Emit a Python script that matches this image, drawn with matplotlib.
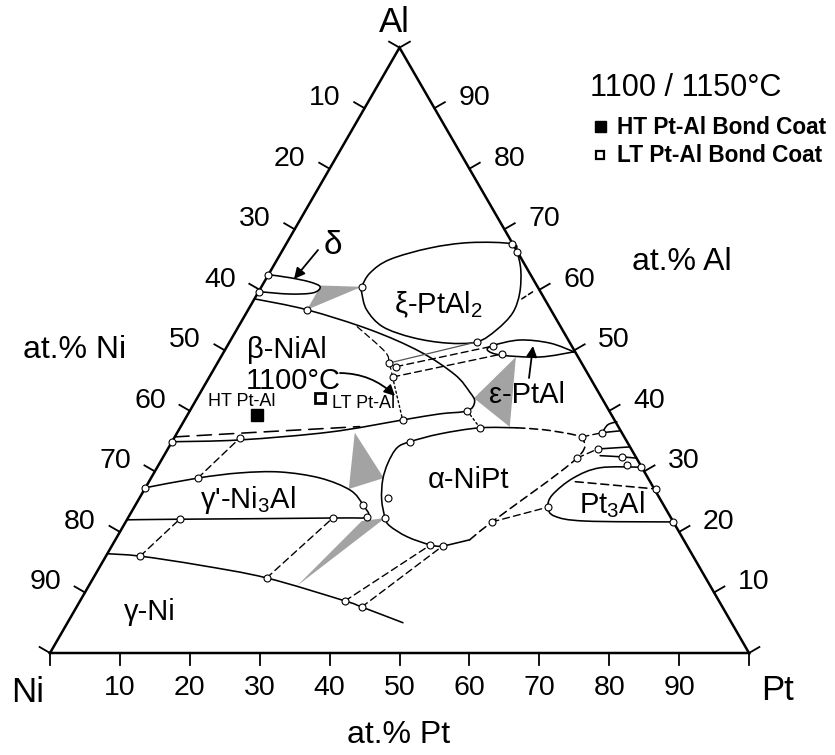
import numpy as np
import matplotlib
matplotlib.use("Agg")
import matplotlib.pyplot as plt
from matplotlib.path import Path
from matplotlib.patches import PathPatch, Polygon

plt.rcParams["font.family"] = ["Liberation Sans", "DejaVu Sans"]
plt.rcParams["mathtext.fontset"] = "custom"
plt.rcParams["mathtext.rm"] = "Liberation Sans"
plt.rcParams["mathtext.it"] = "Liberation Sans:italic"
plt.rcParams["mathtext.bf"] = "Liberation Sans:bold"

# ---------------------------------------------------------------------------
# Ni-Al-Pt isothermal section, compositions as (at.% Pt, at.% Al); Ni = balance
# ---------------------------------------------------------------------------
tick_values = [10, 20, 30, 40, 50, 60, 70, 80, 90]

delta_boundary = [(0, 62.5), (3.3, 62.0), (6.5, 61.3), (8.4, 60.5), (7.9, 59.5),
                  (4.6, 59.3), (0, 59.7)]
beta_boundary = [(0, 58.5), (8.4, 56.7), (19.1, 53.4), (28.0, 49.8), (34.9, 46.0),
                 (38.5, 43.1), (40.0, 41.5), (39.7, 40.0), (36.0, 39.5), (31.2, 38.5),
                 (21.8, 36.5), (9.6, 35.2), (0, 34.9)]
beta_1150_low = [(0, 35.7), (10.4, 36.4), (25.6, 37.4)]
beta_1150_high = [(17.0, 53.9), (23.0, 49.8), (24.6, 47.9), (26.2, 45.6)]
xi_boundary = [(14.35, 60.5), (14.4, 62.8), (16.1, 65.0), (20.9, 66.9), (26.2, 67.8),
               (32.3, 67.6), (33.65, 66.3), (35.7, 63.3), (37.45, 59.5), (38.1, 56.2),
               (37.2, 53.4), (35.4, 51.4), (31.2, 51.2), (25.85, 52.1), (20.65, 53.9),
               (16.95, 56.7), (14.85, 59.5)]
xi_1150 = [(38.25, 58.5), (39.25, 59.7)]
eps_boundary = [(50.1, 49.75), (45.9, 51.2), (41.35, 51.7), (38.0, 50.8), (37.6, 50.0),
                (40.0, 49.2), (45.65, 48.9), (50.1, 49.75)]
gp_boundary = [(0, 27.3), (6.7, 28.9), (12.3, 29.75), (18.0, 29.9), (24.2, 28.9),
               (29.5, 26.9), (32.5, 24.5), (34.1, 22.5), (29.3, 22.3), (7.5, 22.1),
               (0, 22.0)]
gamma_boundary = [(0, 16.4), (4.9, 16.0), (14.2, 14.5), (24.8, 12.4), (37.9, 8.6),
                  (40.8, 7.6), (48.0, 5.0)]
alpha_boundary = [(50.7, 18.7), (47.35, 17.7), (45.5, 17.85), (41.5, 19.2), (38.1, 21.0),
                  (36.8, 22.3), (34.8, 25.3), (33.3, 28.6), (32.65, 31.4), (32.7, 33.9),
                  (34.05, 34.9), (37.7, 36.2), (42.9, 37.2), (48.2, 37.2)]
alpha_1150_top = [(48.2, 37.2), (52.05, 36.9), (56.3, 36.2), (58.25, 35.7)]
alpha_1150_side = [(50.7, 18.7), (52.4, 21.65), (59.3, 32.2), (58.25, 35.7)]
pt3al_boundary = [(69.2, 30.7), (63.4, 30.6), (60.4, 28.9), (58.8, 26.1), (59.2, 24.1),
                  (60.9, 22.6), (65.6, 21.8), (78.3, 21.65)]
pt3al_1150 = [(61.0, 28.3), (73.1, 27.1)]
edge_arc = [(60.8, 36.4), (60.95, 37.7), (62.0, 38.2)]
edge_line_a = [(60.8, 36.4), (63.2, 36.7)]
edge_line_b = [(61.5, 33.7), (66.0, 34.05)]
edge_line_c = [(62.4, 32.6), (65.6, 32.4), (67.7, 32.2)]

# tie lines: (solid-thin, dashed, dotted)
tie_solid = [[(24.55, 47.9), (35.4, 51.4)]]
tie_dashed = [[(25.85, 47.3), (38.0, 50.7)], [(26.25, 45.6), (40.0, 49.4)],
              [(4.9, 16.0), (7.5, 22.1)], [(24.8, 12.4), (29.3, 22.3)],
              [(6.7, 28.9), (9.4, 35.5)], [(37.9, 8.6), (45.5, 17.85)],
              [(40.8, 7.6), (47.35, 17.7)], [(52.4, 21.65), (59.2, 24.1)],
              [(58.25, 35.7), (60.8, 36.4)], [(59.3, 32.2), (61.5, 33.7)]]
tie_dotted = [[(26.2, 45.6), (31.2, 38.5)], [(39.7, 40.0), (42.9, 37.2)]]

# three-phase tie triangles
tie_triangles = [
    [(8.4, 60.7), (14.35, 60.5), (8.4, 56.7)],      # delta + beta + xi
    [(39.6, 42.1), (42.2, 48.9), (47.1, 37.35)],    # beta + eps + alpha
    [(25.4, 36.4), (33.3, 28.9), (29.2, 27.1)],     # beta + gamma' + alpha
    [(36.8, 22.3), (33.7, 21.8), (29.8, 11.1)],     # gamma' + alpha + gamma
]

# measured phase compositions (open circles)
measured_pts = [(0, 62.5), (0, 59.7), (8.4, 56.7), (14.35, 60.5), (32.3, 67.6),
                (33.65, 66.3), (35.4, 51.4), (38.0, 50.7), (40.0, 49.4), (24.55, 47.9),
                (25.85, 47.3), (26.25, 45.6), (39.7, 40.0), (31.2, 38.5), (42.9, 37.2),
                (34.05, 34.9), (0, 34.9), (9.4, 35.5), (0, 27.3), (6.7, 28.9),
                (7.5, 22.1), (29.3, 22.3), (32.5, 24.5), (34.1, 22.5), (36.8, 22.3),
                (35.55, 25.6), (4.9, 16.0), (24.8, 12.4), (37.9, 8.6), (40.8, 7.6),
                (45.5, 17.85), (47.35, 17.7), (52.4, 21.65), (59.2, 24.1), (59.3, 32.2),
                (58.25, 35.7), (60.8, 36.4), (61.5, 33.7), (65.6, 32.4), (67.0, 31.1),
                (69.2, 30.7), (73.1, 27.1), (78.3, 21.65)]

# bond coat compositions
ht_coat = (10.0, 39.3)
lt_coat = (17.6, 42.1)

# ---------------------------------------------------------------------------
W, H = 835, 755
X0, Y0, SIDE = 50, 653, 699          # Ni corner and side length in pixels
S3 = np.sqrt(3) / 2
LW = 1.15


def tern(pts):
    a = np.asarray(pts, float)
    pt, al = a[:, 0] / 100.0, a[:, 1] / 100.0
    return pt + al / 2, al * S3


def smooth_path(pts, closed=False):
    x, y = tern(pts)
    P = np.column_stack([x, y])
    if closed:
        P = np.vstack([P, P[:1]])
    n = len(P)
    verts, codes = [P[0]], [Path.MOVETO]
    for i in range(n - 1):
        if i > 0:
            p0 = P[i - 1]
        else:
            p0 = P[-2] if closed else P[0]
        p1, p2 = P[i], P[i + 1]
        if i + 2 < n:
            p3 = P[i + 2]
        else:
            p3 = P[1] if closed else P[i + 1]
        verts += [p1 + (p2 - p0) / 6, p2 - (p3 - p1) / 6, p2]
        codes += [Path.CURVE4] * 3
    return Path(verts, codes)


def curve(ax, pts, closed=False, ls="-", lw=LW, color="k", z=3):
    ax.add_patch(PathPatch(smooth_path(pts, closed), fill=False, ec=color, lw=lw,
                           ls=ls, zorder=z, capstyle="round", joinstyle="round"))


def fxy(px, py):
    return px / W, 1 - py / H


fig = plt.figure(figsize=(W / 100, H / 100), dpi=100)
ax = fig.add_axes([0, 0, 1, 1])
ax.set_xlim(-X0 / SIDE, (W - X0) / SIDE)
ax.set_ylim(-(H - Y0) / SIDE, Y0 / SIDE)
ax.axis("off")

# triangle frame
ax.plot([0, 1, 0.5, 0], [0, 0, S3, 0], color="k", lw=1.8, zorder=4,
        solid_joinstyle="miter")

# ticks on the three sides
tl = 12 / SIDE
for v in [0] + tick_values + [100]:
    f = v / 100
    # bottom: at.% Pt
    ax.plot([f, f], [0, -tl], color="k", lw=1.3)
    # left: at.% Ni (point on Ni-Al edge)
    lx, ly = 0.5 * (1 - f), S3 * (1 - f)
    ax.plot([lx, lx - tl * S3], [ly, ly + tl * 0.5], color="k", lw=1.3)
    # right: at.% Al (point on Pt-Al edge)
    rx, ry = 1 - 0.5 * f, S3 * f
    ax.plot([rx, rx + tl * S3], [ry, ry + tl * 0.5], color="k", lw=1.3)

TICK_FS = 20.5
for v in tick_values:
    f = v / 100
    ax.annotate(str(v), (f, 0), xytext=(0, -35), textcoords="offset pixels",
                ha="center", va="center", fontsize=TICK_FS)
    ax.annotate(str(v), (0.5 * (1 - f), S3 * (1 - f)), xytext=(-24, 10),
                textcoords="offset pixels", ha="right", va="center", fontsize=TICK_FS)
    ax.annotate(str(v), (1 - 0.5 * f, S3 * f), xytext=(24, 10),
                textcoords="offset pixels", ha="left", va="center", fontsize=TICK_FS)

# tie triangles
for tri in tie_triangles:
    x, y = tern(tri)
    ax.add_patch(Polygon(np.column_stack([x, y]), closed=True, fc="#a3a3a3",
                         ec="none", zorder=1))

# phase boundaries at 1100 C
curve(ax, delta_boundary)
curve(ax, beta_boundary)
curve(ax, xi_boundary, closed=True)
curve(ax, eps_boundary)
curve(ax, gp_boundary)
curve(ax, gamma_boundary)
curve(ax, alpha_boundary)
curve(ax, pt3al_boundary)
curve(ax, edge_arc)
curve(ax, edge_line_a)
curve(ax, edge_line_b)
curve(ax, edge_line_c)

# boundaries at 1150 C
dash = (0, (5, 3))
curve(ax, beta_1150_low, ls=(0, (9, 5)))
curve(ax, beta_1150_high, ls=dash, lw=0.9)
curve(ax, xi_1150, ls=(0, (3, 2)))
curve(ax, alpha_1150_top, ls=dash)
curve(ax, alpha_1150_side, ls=dash)
curve(ax, pt3al_1150, ls=dash)

for seg in tie_solid:
    curve(ax, seg, lw=0.9, color="#555555")
for seg in tie_dashed:
    curve(ax, seg, ls=dash, lw=1.0)
for seg in tie_dotted:
    curve(ax, seg, ls=(0, (1.5, 2)), lw=1.0)

mx, my = tern(measured_pts)
ax.plot(mx, my, "o", ms=5, mfc="white", mec="k", mew=0.8, zorder=6)

hx, hy = tern([ht_coat])
ax.plot(hx, hy, "s", ms=9, mfc="black", mec="black", zorder=7)
lx_, ly_ = tern([lt_coat])
ax.plot(lx_, ly_, "s", ms=7, mfc="white", mec="black", mew=2, zorder=7)

# phase labels
def label(px, py, s, size=21, **kw):
    fig.text(*fxy(px, py), s, ha="center", va="center", fontsize=size, **kw)


label(287, 350, "β-NiAl")
label(293, 381, "1100°C")
label(242, 402, "HT Pt-Al", size=13)
label(364, 404, "LT Pt-Al", size=13)
label(438, 305, "ξ-PtAl$_2$")
label(527, 395, "ε-PtAl")
label(468, 480, "α-NiPt")
label(248, 500, "γ'-Ni$_3$Al")
label(612, 505, "Pt$_3$Al")
label(150, 612, "γ-Ni")
label(333, 245, "δ", size=24)

# corner and axis titles
label(394, 22, "Al", size=25)
label(28, 693, "Ni", size=25)
label(778, 690, "Pt", size=25)
label(399, 735, "at.% Pt", size=23)
label(75, 350, "at.% Ni", size=23)
label(682, 262, "at.% Al", size=23)

# legend
fig.text(*fxy(590, 88), "1100 / 1150°C", ha="left", va="center", fontsize=22)
fig.text(*fxy(617, 127), "HT Pt-Al Bond Coat", ha="left", va="center",
         fontsize=16.3, fontweight="bold")
fig.text(*fxy(617, 155), "LT Pt-Al Bond Coat", ha="left", va="center",
         fontsize=16.3, fontweight="bold")
fig.patches.append(plt.Rectangle(fxy(595, 132), 11 / W, 11 / H, fc="k", ec="k",
                                 transform=fig.transFigure, figure=fig))
fig.patches.append(plt.Rectangle(fxy(596, 159), 8 / W, 8 / H, fc="white", ec="k",
                                 lw=1.6, transform=fig.transFigure, figure=fig))

# arrows
arrow = dict(arrowstyle="-|>", color="k", lw=1.3, mutation_scale=16,
             shrinkA=0, shrinkB=0)
ax.annotate("", xy=fxy(294, 279), xytext=fxy(318, 250), xycoords="figure fraction",
            textcoords="figure fraction", arrowprops=arrow)
ax.annotate("", xy=fxy(395, 396), xytext=fxy(340, 373), xycoords="figure fraction",
            textcoords="figure fraction",
            arrowprops=dict(arrow, connectionstyle="arc3,rad=-0.2"))
ax.annotate("", xy=fxy(533, 346), xytext=fxy(529, 378), xycoords="figure fraction",
            textcoords="figure fraction", arrowprops=arrow)

fig.savefig("out.png", dpi=100, facecolor="white")
